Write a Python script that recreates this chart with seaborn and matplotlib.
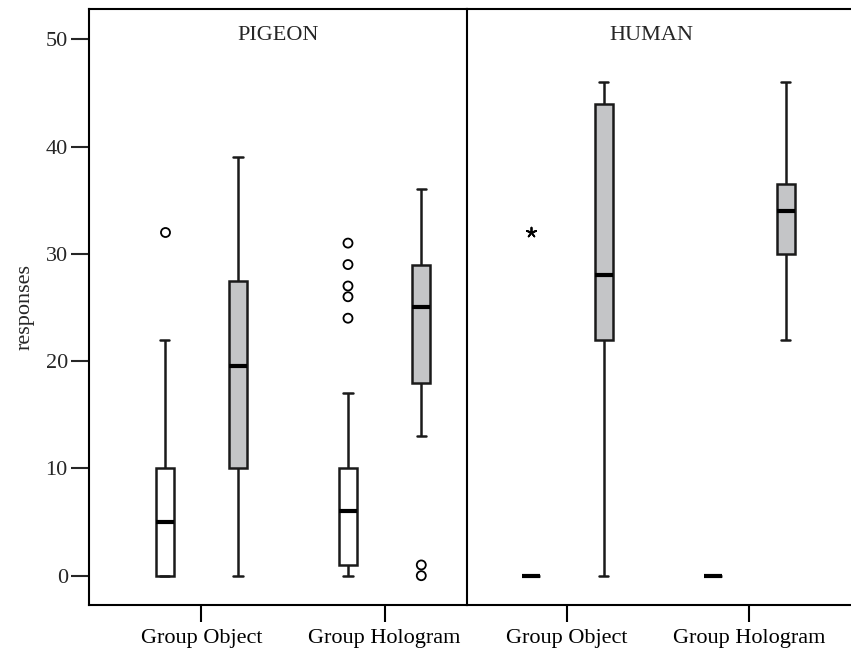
import numpy as np
import pandas as pd
import matplotlib
matplotlib.use("Agg")
import matplotlib.pyplot as plt
import seaborn as sns

# Panels, groups and the two conditions (white / grey boxes)
species = ["PIGEON", "HUMAN"]
groups = ["Group Object", "Group Hologram"]
conditions = ["Condition 1", "Condition 2"]

# Five-number summaries: [lower whisker, Q1, median, Q3, upper whisker]
pigeon_object_c1 = [0, 0, 5, 10, 22]
pigeon_object_c2 = [0, 10, 19.5, 27.5, 39]
pigeon_hologram_c1 = [0, 1, 6, 10, 17]
pigeon_hologram_c2 = [13, 18, 25, 29, 36]
human_object_c1 = [0, 0, 0, 0, 0]
human_object_c2 = [0, 22, 28, 44, 46]
human_hologram_c1 = [0, 0, 0, 0, 0]
human_hologram_c2 = [22, 30, 34, 36.5, 46]

# Outliers (circles) and extreme values (asterisks)
pigeon_object_c1_out = [32]
pigeon_hologram_c1_out = [24, 26, 27, 29, 31]
pigeon_hologram_c2_out = [0, 1]
human_object_c1_extreme = [32]

y_ticks = [0, 10, 20, 30, 40, 50]

summaries = {
    ("PIGEON", "Group Object", "Condition 1"): pigeon_object_c1,
    ("PIGEON", "Group Object", "Condition 2"): pigeon_object_c2,
    ("PIGEON", "Group Hologram", "Condition 1"): pigeon_hologram_c1,
    ("PIGEON", "Group Hologram", "Condition 2"): pigeon_hologram_c2,
    ("HUMAN", "Group Object", "Condition 1"): human_object_c1,
    ("HUMAN", "Group Object", "Condition 2"): human_object_c2,
    ("HUMAN", "Group Hologram", "Condition 1"): human_hologram_c1,
    ("HUMAN", "Group Hologram", "Condition 2"): human_hologram_c2,
}
outliers = {
    ("PIGEON", "Group Object", "Condition 1"): pigeon_object_c1_out,
    ("PIGEON", "Group Hologram", "Condition 1"): pigeon_hologram_c1_out,
    ("PIGEON", "Group Hologram", "Condition 2"): pigeon_hologram_c2_out,
}
extremes = {
    ("HUMAN", "Group Object", "Condition 1"): human_object_c1_extreme,
}


def to_frame(d):
    rows = [(s, g, c, v) for (s, g, c), vals in d.items() for v in vals]
    return pd.DataFrame(rows, columns=["species", "group", "condition", "value"])


box_df = to_frame(summaries)
out_df = to_frame(outliers)
ext_df = to_frame(extremes)

sns.set_style("ticks")
plt.rcParams["font.family"] = ["Liberation Serif", "DejaVu Serif"]
plt.rcParams["axes.linewidth"] = 1.5
plt.rcParams["axes.edgecolor"] = "black"

box_colors = {"Condition 1": "white", "Condition 2": "#c4c5c7"}

fig = plt.figure(figsize=(8.51, 6.48), dpi=100)
ax_left = fig.add_axes([0.1042, 0.0664, 0.4449, 0.9197])
ax_right = fig.add_axes([0.5491, 0.0664, 0.4509, 0.9197])
ax_left.set_facecolor("none")
ax_right.set_facecolor("none")
ax_left.set_zorder(2)
axes = {"PIGEON": ax_left, "HUMAN": ax_right}

for sp in species:
    ax = axes[sp]
    sns.boxplot(
        data=box_df[box_df["species"] == sp], x="group", y="value",
        hue="condition", order=groups, hue_order=conditions,
        palette=box_colors, width=0.8, gap=0.75, whis=(0, 100),
        showfliers=False, linecolor="#1a1a1a", linewidth=1.8,
        medianprops=dict(color="black", linewidth=3),
        legend=False, ax=ax,
    )
    sub = out_df[out_df["species"] == sp]
    if len(sub):
        sns.stripplot(
            data=sub, x="group", y="value", hue="condition",
            order=groups, hue_order=conditions, dodge=True, jitter=False,
            palette={"Condition 1": "white", "Condition 2": "white"},
            edgecolor="black", linewidth=1.3, size=6.5, legend=False, ax=ax,
            zorder=5,
        )
    sub = ext_df[ext_df["species"] == sp]
    if len(sub):
        sns.stripplot(
            data=sub, x="group", y="value", hue="condition",
            order=groups, hue_order=conditions, dodge=True, jitter=False,
            palette={"Condition 1": "black", "Condition 2": "black"},
            marker=(5, 2, 0), linewidth=1.3, size=7, legend=False, ax=ax,
            zorder=5,
        )

    ax.set_ylim(-2.73, 52.82)
    ax.set_xlabel("")
    ax.set_ylabel("")
    ax.tick_params(axis="x", length=12, width=1.5, pad=5, labelsize=16,
                   colors="black")

ax_left.set_xlim(-0.615, 1.451)
ax_right.set_xlim(-0.548, 1.557)

ax_left.set_yticks(y_ticks)
ax_left.tick_params(axis="y", length=13, width=1.5, pad=2, labelsize=16)
ax_left.set_ylabel("responses", fontsize=16, labelpad=8)

ax_right.set_yticks([])
ax_right.spines["left"].set_visible(False)
ax_right.spines["right"].set_visible(False)

ax_left.text(0.5, 0.955, "PIGEON", transform=ax_left.transAxes,
             ha="center", va="center", fontsize=16)
ax_right.text(0.479, 0.955, "HUMAN", transform=ax_right.transAxes,
              ha="center", va="center", fontsize=16)

fig.savefig("out.png", dpi=100, facecolor="white")
